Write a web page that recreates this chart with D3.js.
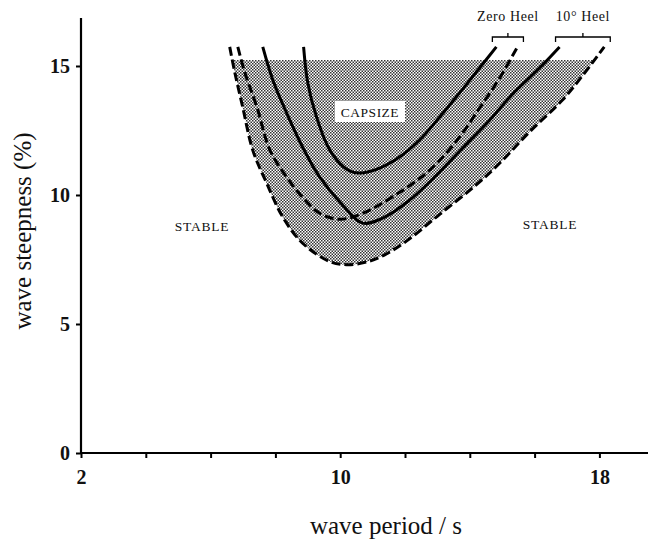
<!DOCTYPE html>
<html>
<head>
<meta charset="utf-8">
<script src="https://cdn.jsdelivr.net/npm/d3@7"></script>
<style>
  body { margin: 0; background: #fff; }
  text { font-family: "Liberation Serif", "DejaVu Serif", serif; fill: #111; }
</style>
</head>
<body>
<script>
// wave period (s) and wave steepness (%)
var zeroSolidT = [8.87, 9.00, 9.27, 9.68, 10.20, 10.60, 11.22, 11.83, 12.45, 13.07, 13.68, 14.30, 14.82];
var zeroSolidS = [15.74, 14.34, 13.02, 11.74, 11.00, 10.85, 11.04, 11.47, 12.13, 13.02, 13.95, 14.92, 15.74];

var zeroDashT = [6.84, 7.06, 7.43, 7.83, 8.35, 8.84, 9.37, 9.98, 10.69, 11.74, 12.76, 13.68, 14.30, 14.92, 15.47];
var zeroDashS = [15.74, 14.73, 13.41, 11.74, 10.69, 9.91, 9.29, 9.06, 9.29, 10.03, 10.96, 12.24, 13.37, 14.53, 15.74];

var heelSolidT = [7.61, 7.92, 8.35, 8.84, 9.37, 10.08, 10.69, 11.37, 12.14, 12.91, 13.78, 14.61, 15.32, 16.15, 16.77];
var heelSolidS = [15.74, 14.46, 13.17, 11.85, 10.69, 9.60, 8.91, 9.14, 9.80, 10.69, 11.82, 12.90, 13.91, 14.92, 15.74];

var heelDashT = [6.59, 6.75, 6.99, 7.30, 7.73, 8.23, 8.84, 9.68, 10.20, 10.80, 11.40, 12.14, 13.07, 14.15, 14.92, 15.84, 16.86, 17.47, 18.15];
var heelDashS = [15.74, 14.73, 13.41, 11.74, 10.46, 9.14, 8.13, 7.42, 7.30, 7.40, 7.70, 8.30, 9.25, 10.34, 11.23, 12.44, 13.68, 14.61, 15.74];

var capsizeTop = 15.23;

var xTicks = [2, 4, 6, 8, 10, 12, 14, 16, 18];
var xTickLabels = [2, 10, 18];
var yTicks = [0, 5, 10, 15];

var svgWidth = 658;
var svgHeight = 546;
var margin = { top: 18, right: 10, bottom: 93, left: 81 };

var svg = d3.select("body").append("svg")
  .attr("width", svgWidth)
  .attr("height", svgHeight);

var x = d3.scaleLinear().domain([2, 19.5]).range([margin.left, 648]);
var y = d3.scaleLinear().domain([0, 16.86]).range([svgHeight - margin.bottom, margin.top]);

function pts(ts, ss) {
  return ts.map(function(t, i) { return [t, ss[i]]; });
}

var line = d3.line()
  .x(function(d) { return x(d[0]); })
  .y(function(d) { return y(d[1]); })
  .curve(d3.curveCatmullRom.alpha(0.5));

// dotted screen for the capsize zone
var defs = svg.append("defs");
var pat = defs.append("pattern")
  .attr("id", "dots")
  .attr("patternUnits", "userSpaceOnUse")
  .attr("width", 3).attr("height", 3);
pat.append("rect").attr("x", 0).attr("y", 0).attr("width", 1.5).attr("height", 1.5).attr("fill", "#000");
pat.append("rect").attr("x", 1.5).attr("y", 1.5).attr("width", 1.5).attr("height", 1.5).attr("fill", "#000");

defs.append("clipPath").attr("id", "zone")
  .append("rect")
  .attr("x", 0).attr("y", y(capsizeTop))
  .attr("width", svgWidth).attr("height", svgHeight);

var outer = pts(heelDashT, heelDashS);
svg.append("path")
  .attr("d", line(outer) + "Z")
  .attr("fill", "url(#dots)")
  .attr("opacity", 0.8)
  .attr("clip-path", "url(#zone)");

// capsize label
var capG = svg.append("g");
capG.append("rect")
  .attr("x", 335).attr("y", 101).attr("width", 70).attr("height", 21)
  .attr("fill", "#fff");
capG.append("text")
  .attr("x", 370).attr("y", 117)
  .attr("text-anchor", "middle")
  .style("font-size", "13.5px")
  .style("letter-spacing", "0.5px")
  .text("CAPSIZE");

var curves = [
  { p: pts(zeroSolidT, zeroSolidS), dash: null },
  { p: pts(zeroDashT, zeroDashS), dash: "9,4" },
  { p: pts(heelSolidT, heelSolidS), dash: null },
  { p: outer, dash: "9,4" }
];

svg.selectAll(".curve")
  .data(curves)
  .enter()
  .append("path")
  .attr("class", "curve")
  .attr("d", function(d) { return line(d.p); })
  .attr("fill", "none")
  .attr("stroke", "#000")
  .attr("stroke-width", 3)
  .attr("stroke-dasharray", function(d) { return d.dash; });

// axes
var xaxis = d3.axisBottom(x).tickValues(xTicks).tickSize(5)
  .tickFormat(function(d) { return xTickLabels.indexOf(d) >= 0 ? d : ""; });
var gx = svg.append("g")
  .attr("transform", "translate(0," + y(0) + ")")
  .call(xaxis);
gx.select(".domain").attr("d", "M" + x(2) + ",0H" + x(19.5)).attr("stroke-width", 2.2);
gx.selectAll(".tick line").attr("stroke-width", 2);
gx.selectAll(".tick text")
  .attr("y", 17)
  .style("font-size", "20px")
  .style("font-weight", "bold")
  .style("font-family", "Liberation Serif, serif");

var yaxis = d3.axisLeft(y).tickValues(yTicks).tickSize(5);
var gy = svg.append("g")
  .attr("transform", "translate(" + x(2) + ",0)")
  .call(yaxis);
gy.select(".domain").attr("d", "M0," + y(0) + "V" + y(16.86)).attr("stroke-width", 2.2);
gy.selectAll(".tick line").attr("stroke-width", 2);
gy.selectAll(".tick text")
  .attr("x", -11)
  .style("font-size", "20px")
  .style("font-weight", "bold")
  .style("font-family", "Liberation Serif, serif");

svg.append("text")
  .attr("transform", "translate(31,231) rotate(-90)")
  .attr("text-anchor", "middle")
  .style("font-size", "25px")
  .text("wave steepness (%)");

svg.append("text")
  .attr("x", 386).attr("y", 534)
  .attr("text-anchor", "middle")
  .style("font-size", "25px")
  .text("wave period / s");

// stable labels
svg.append("text").attr("x", 202).attr("y", 231)
  .attr("text-anchor", "middle").style("font-size", "13.5px").style("letter-spacing", "0.8px")
  .text("STABLE");
svg.append("text").attr("x", 550).attr("y", 229)
  .attr("text-anchor", "middle").style("font-size", "13.5px").style("letter-spacing", "0.8px")
  .text("STABLE");

// heel brackets
var brackets = [
  { label: "Zero Heel", a: zeroSolidT[zeroSolidT.length - 1], b: zeroDashT[zeroDashT.length - 1] },
  { label: "10\u00B0 Heel", a: heelSolidT[heelSolidT.length - 1], b: heelDashT[heelDashT.length - 1] }
];
brackets.forEach(function(br) {
  var x0 = x(br.a) - 4, x1 = x(br.b) + 6, xm = (x0 + x1) / 2, by = 37;
  svg.append("path")
    .attr("d", "M" + x0 + "," + (by + 5) + "V" + by + "H" + x1 + "V" + (by + 5) + "M" + xm + "," + by + "V" + (by - 4))
    .attr("fill", "none").attr("stroke", "#000").attr("stroke-width", 1.3);
  svg.append("text")
    .attr("x", xm).attr("y", 21)
    .attr("text-anchor", "middle")
    .style("font-size", "14px")
    .style("letter-spacing", "0.6px")
    .text(br.label);
});
</script>
</body>
</html>
